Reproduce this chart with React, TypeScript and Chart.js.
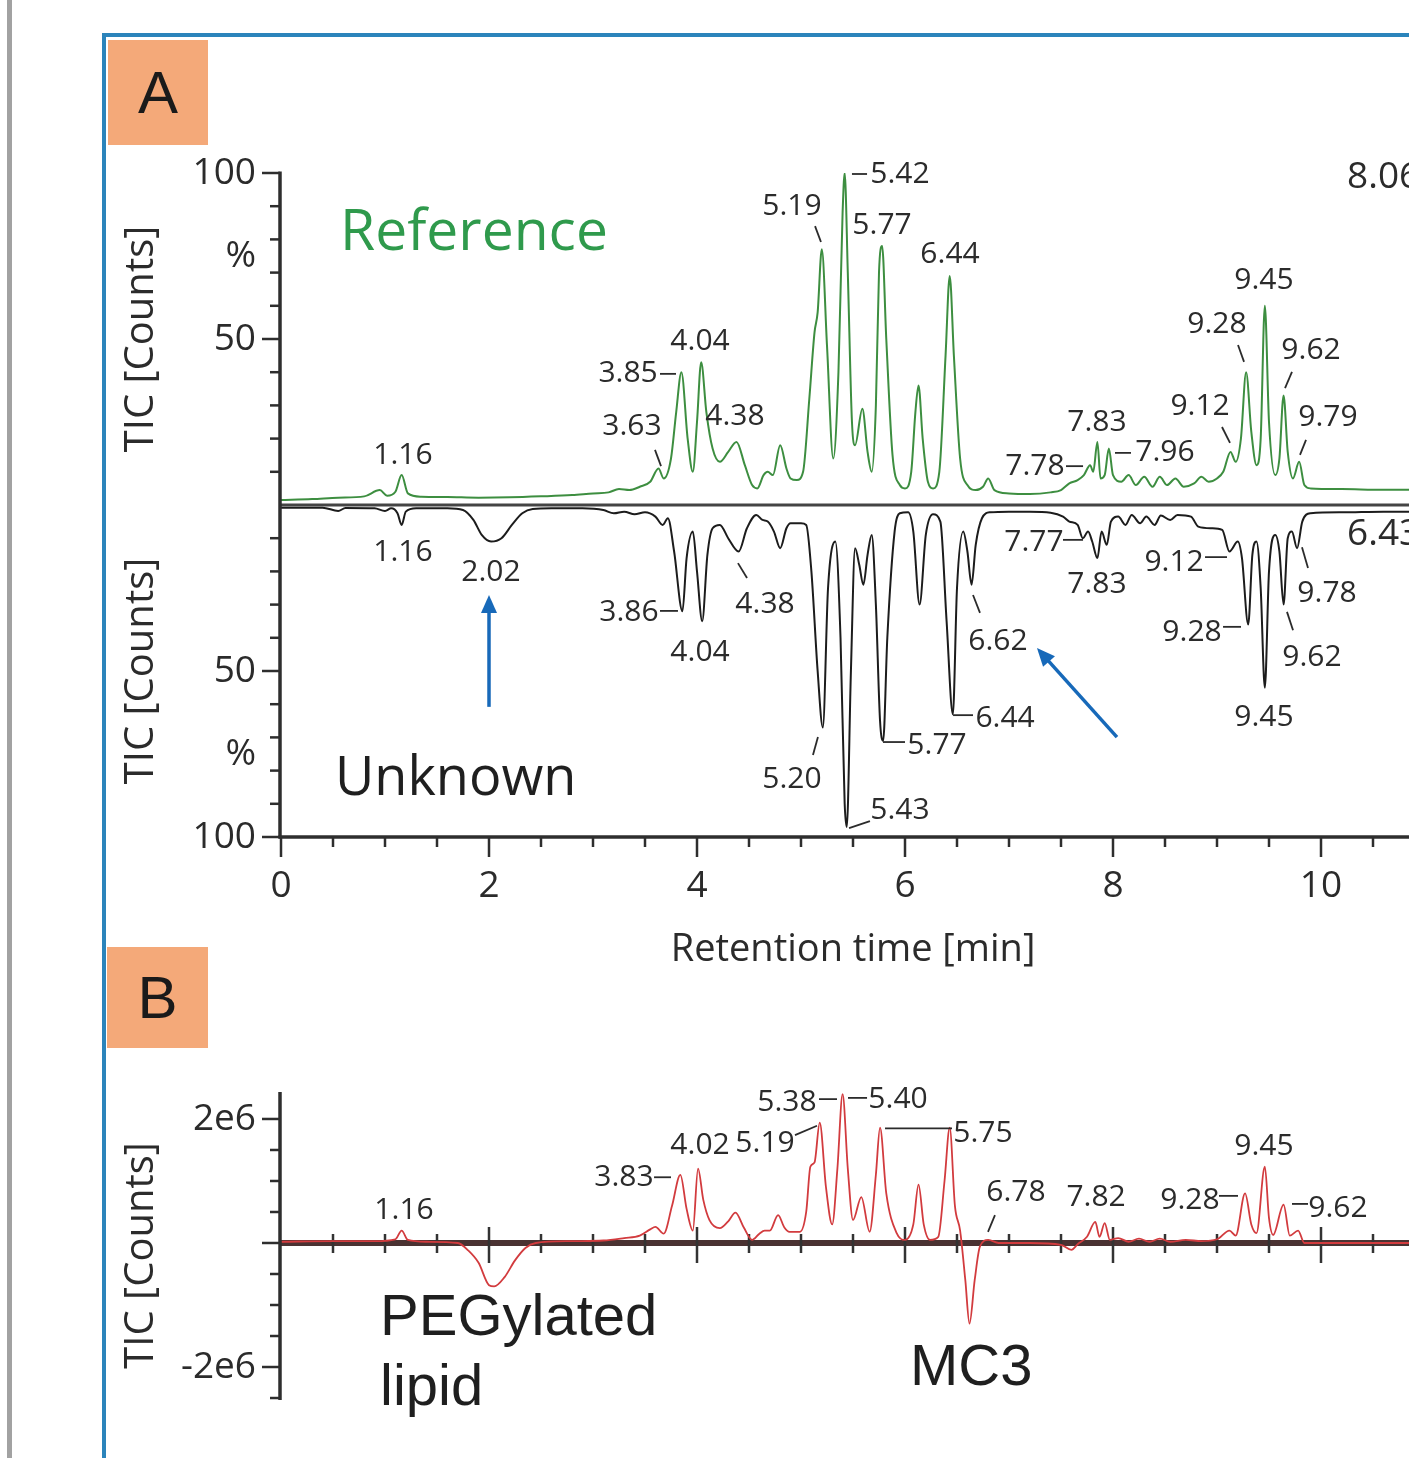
import React, { useEffect, useRef } from 'react';
import { Chart, registerables } from 'chart.js';
Chart.register(...registerables);

// ---------------- DATA ----------------
// Retention time [min], relative abundance [%]
const referenceTrace: [number, number][] = [
  [0.0, 1.5], [0.3, 1.8], [0.55, 2.2], [0.8, 2.6], [0.95, 4.5], [1.02, 2.8], [1.1, 4], [1.16, 9], [1.22, 3.5],
  [1.35, 2.5], [1.6, 2.4], [1.9, 2.2], [2.2, 2.3], [2.5, 2.6], [2.8, 3.0], [3.0, 3.5], [3.15, 3.8], [3.25, 4.8],
  [3.35, 4.5], [3.45, 5.5], [3.55, 7], [3.63, 11], [3.68, 8], [3.75, 14], [3.8, 28], [3.85, 40], [3.91, 20],
  [3.96, 10], [4.0, 25], [4.04, 43], [4.09, 28], [4.15, 17], [4.22, 13], [4.3, 16], [4.38, 19], [4.46, 12],
  [4.53, 6], [4.58, 5], [4.64, 9], [4.68, 10], [4.73, 9], [4.8, 18], [4.86, 11], [4.9, 8], [4.96, 7.5],
  [5.02, 10], [5.08, 32], [5.13, 52], [5.16, 58], [5.2, 77], [5.25, 48], [5.31, 14], [5.36, 40], [5.4, 88],
  [5.42, 100], [5.45, 70], [5.49, 25], [5.52, 18], [5.59, 29], [5.64, 16], [5.68, 10], [5.72, 30], [5.75, 70],
  [5.78, 78], [5.82, 50], [5.88, 15], [5.95, 6], [6.0, 5], [6.06, 10], [6.1, 28], [6.13, 36], [6.17, 20],
  [6.22, 7], [6.27, 5], [6.33, 10], [6.39, 45], [6.43, 69], [6.47, 45], [6.53, 14], [6.6, 6], [6.68, 4.5],
  [6.75, 5.5], [6.8, 8], [6.86, 4.5], [7.0, 3.5], [7.2, 3.3], [7.4, 3.8], [7.5, 4.5], [7.58, 6.5], [7.66, 7.5],
  [7.72, 9], [7.78, 12], [7.81, 10], [7.85, 19], [7.88, 8], [7.92, 9], [7.96, 17], [8.0, 9], [8.08, 7],
  [8.15, 9], [8.22, 6], [8.3, 8.5], [8.38, 5.5], [8.45, 8.5], [8.52, 6], [8.6, 8], [8.68, 5.5], [8.78, 6.5],
  [8.85, 8.5], [8.92, 7], [9.0, 8], [9.06, 10], [9.13, 16], [9.18, 13], [9.23, 20], [9.28, 40], [9.33, 22],
  [9.38, 12], [9.42, 20], [9.46, 60], [9.5, 25], [9.56, 9], [9.6, 14], [9.64, 33], [9.68, 16], [9.73, 8],
  [9.79, 13], [9.84, 6], [9.9, 5], [10.2, 4.8], [10.6, 4.6], [11.0, 4.6],
];

// Retention time [min], relative abundance [%] (plotted downward)
const unknownTrace: [number, number][] = [
  [0.0, 0.8], [0.4, 0.8], [0.55, 1.8], [0.62, 0.9], [0.9, 1.0], [1.0, 1.8], [1.06, 1.0], [1.12, 2.5], [1.16, 6],
  [1.2, 2], [1.3, 1], [1.6, 1], [1.75, 1.5], [1.85, 4.5], [1.93, 9], [2.02, 11], [2.12, 10], [2.22, 6],
  [2.32, 2.5], [2.42, 1.2], [2.6, 1], [2.9, 1], [3.1, 1.5], [3.2, 2.5], [3.3, 2.0], [3.4, 2.8], [3.5, 2.2],
  [3.6, 3.5], [3.67, 6], [3.72, 4], [3.78, 14], [3.86, 32], [3.9, 16], [3.96, 8], [4.0, 20], [4.05, 35],
  [4.1, 15], [4.15, 7], [4.22, 6], [4.3, 10], [4.4, 14], [4.48, 7], [4.57, 3], [4.63, 4.5], [4.68, 5],
  [4.74, 8], [4.8, 13], [4.86, 7], [4.9, 5.5], [5.0, 5.5], [5.05, 6], [5.1, 20], [5.16, 50], [5.21, 67],
  [5.26, 25], [5.33, 11], [5.38, 40], [5.42, 90], [5.44, 97], [5.48, 50], [5.52, 13], [5.56, 18], [5.6, 24],
  [5.64, 15], [5.68, 9], [5.72, 30], [5.76, 65], [5.79, 71], [5.83, 40], [5.9, 8], [5.95, 2.5], [6.03, 2.2],
  [6.08, 8], [6.14, 30], [6.2, 9], [6.27, 2.8], [6.34, 5], [6.4, 35], [6.46, 63], [6.5, 25], [6.56, 8],
  [6.6, 14], [6.64, 24], [6.68, 12], [6.74, 4], [6.82, 2.2], [7.0, 2.0], [7.2, 2.0], [7.4, 2.3], [7.52, 3.5],
  [7.58, 5], [7.66, 6], [7.71, 10], [7.76, 8], [7.8, 11], [7.85, 16], [7.89, 8], [7.94, 12], [7.98, 5],
  [8.05, 3.5], [8.12, 6], [8.18, 3], [8.26, 5.5], [8.32, 3.5], [8.4, 6], [8.46, 3.2], [8.55, 4.5], [8.62, 3],
  [8.75, 3.5], [8.82, 6.5], [8.95, 7], [9.05, 7.5], [9.12, 14], [9.2, 11], [9.24, 16], [9.3, 36], [9.34, 15],
  [9.38, 11], [9.42, 25], [9.46, 55], [9.5, 20], [9.56, 9], [9.6, 14], [9.64, 30], [9.68, 10], [9.72, 8],
  [9.77, 13], [9.82, 5], [9.9, 2.5], [10.2, 2.2], [10.6, 2.0], [11.0, 2.0],
];

// Retention time [min], TIC difference [millions of counts]
const differenceTrace: [number, number][] = [
  [0.0, 0.02], [0.5, 0.03], [0.9, 0.03], [1.1, 0.06], [1.16, 0.2], [1.22, 0.05], [1.4, 0.02], [1.7, 0.0],
  [1.8, -0.12], [1.9, -0.32], [2.0, -0.68], [2.05, -0.7], [2.15, -0.55], [2.25, -0.28], [2.35, -0.08],
  [2.45, 0.0], [2.8, 0.03], [3.1, 0.04], [3.3, 0.08], [3.45, 0.12], [3.55, 0.22], [3.6, 0.26], [3.68, 0.15],
  [3.76, 0.6], [3.84, 1.1], [3.9, 0.55], [3.96, 0.2], [4.01, 1.2], [4.06, 0.7], [4.12, 0.37], [4.22, 0.24],
  [4.3, 0.35], [4.37, 0.49], [4.45, 0.25], [4.53, 0.05], [4.6, 0.15], [4.65, 0.2], [4.7, 0.2], [4.78, 0.45],
  [4.84, 0.25], [4.89, 0.18], [4.99, 0.18], [5.05, 0.5], [5.09, 1.23], [5.13, 1.3], [5.18, 1.94], [5.24, 0.9],
  [5.3, 0.3], [5.35, 1.2], [5.4, 2.4], [5.45, 1.2], [5.5, 0.37], [5.58, 0.74], [5.66, 0.18], [5.72, 1.1],
  [5.76, 1.86], [5.82, 0.8], [5.92, 0.16], [6.0, 0.05], [6.08, 0.3], [6.13, 0.94], [6.18, 0.3], [6.24, 0.05],
  [6.32, 0.1], [6.38, 1.0], [6.43, 1.86], [6.48, 0.6], [6.53, 0.2], [6.58, -0.6], [6.62, -1.3], [6.67, -0.6],
  [6.72, -0.06], [6.8, 0.05], [6.9, 0.0], [7.2, 0.0], [7.5, -0.03], [7.6, -0.11], [7.66, -0.02], [7.75, 0.1],
  [7.83, 0.34], [7.87, 0.1], [7.92, 0.32], [7.97, 0.05], [8.05, 0.08], [8.15, 0.02], [8.25, 0.07], [8.35, 0.02],
  [8.45, 0.07], [8.55, 0.02], [8.7, 0.05], [8.85, 0.03], [9.0, 0.06], [9.12, 0.2], [9.18, 0.12], [9.27, 0.8],
  [9.33, 0.3], [9.38, 0.16], [9.46, 1.23], [9.5, 0.4], [9.54, 0.13], [9.64, 0.62], [9.7, 0.12], [9.78, 0.2],
  [9.84, 0.0], [10.0, 0.0], [11.0, 0.0],
];

const timeTicks = [0, 2, 4, 6, 8, 10];
const mirrorTicks = [-100, -75, -50, 50, 75, 100];
const differenceTicks = [-2, 2];

// [label, time, value] – label anchor in data units
const referencePeakLabels: [string, number, number][] = [
  ['1.16', 1.173, 14.8], ['3.63', 3.375, 23.8], ['3.85', 3.337, 39.5], ['4.04', 4.029, 49.4],
  ['4.38', 4.365, 26.8], ['5.19', 4.913, 89.8], ['5.42', 5.952, 99.7], ['5.77', 5.779, 84.3],
  ['6.44', 6.433, 75.6], ['7.78', 7.25, 11.7], ['7.83', 7.846, 25.0], ['7.96', 8.5, 15.7],
  ['9.12', 8.837, 29.8], ['9.28', 9.0, 54.5], ['9.45', 9.452, 67.5], ['9.62', 9.904, 46.7],
  ['9.79', 10.067, 26.5],
];
const referenceLeaders: [number, number, number, number][] = [
  [3.596, 16.6, 3.654, 11.7], [3.644, 39.5, 3.798, 39.5], [5.135, 84.0, 5.192, 79.2], [5.49, 99.7, 5.635, 99.7],
  [7.548, 11.7, 7.712, 11.7], [8.019, 15.7, 8.173, 15.7], [9.048, 23.5, 9.125, 18.7], [9.202, 48.2, 9.26, 43.1],
  [9.721, 40.1, 9.654, 35.2], [9.856, 19.6, 9.798, 15.1],
];
const unknownPeakLabels: [string, number, number][] = [
  ['1.16', 1.173, -14.2], ['2.02', 2.019, -20.2], ['3.86', 3.346, -32.5], ['4.04', 4.029, -44.3],
  ['4.38', 4.654, -30.1], ['5.20', 4.913, -82.8], ['5.43', 5.952, -91.9], ['5.77', 6.308, -72.3],
  ['6.44', 6.962, -64.2], ['6.62', 6.894, -41.0], ['7.77', 7.24, -11.4], ['7.83', 7.846, -23.8],
  ['9.12', 8.587, -17.2], ['9.28', 8.76, -38.3], ['9.45', 9.452, -63.9], ['9.62', 9.913, -45.8],
  ['9.78', 10.058, -26.5],
];
const unknownLeaders: [number, number, number, number][] = [
  [3.644, -31.9, 3.817, -31.9], [4.394, -17.5, 4.481, -22.0], [5.163, -69.9, 5.115, -75.3],
  [5.462, -97.3, 5.663, -95.2], [5.788, -71.4, 6.0, -71.4], [6.462, -63.3, 6.654, -63.3],
  [6.654, -27.1, 6.721, -32.5], [7.519, -10.5, 7.712, -10.5], [8.885, -15.7, 9.096, -15.7],
  [9.058, -36.7, 9.231, -36.7], [9.673, -32.2, 9.731, -37.7], [9.817, -12.7, 9.875, -19.0],
];
const neighbourLabels: [string, number, number][] = [['8.06', 10.25, 98.8], ['6.43', 10.25, -9.0]];
const mirrorArrows: [number, number, number, number][] = [[2.0, -60.8, 2.0, -27.1], [8.038, -69.9, 7.269, -43.1]];
const mirrorTexts: [string, number, number][] = [['Reference', 0.567, 81.6], ['Unknown', 0.519, -82.8]];

const differencePeakLabels: [string, number, number][] = [
  ['1.16', 1.183, 0.53], ['3.83', 3.298, 1.05], ['4.02', 4.029, 1.58], ['5.19', 4.654, 1.61],
  ['5.38', 4.865, 2.27], ['5.40', 5.933, 2.31], ['5.75', 6.75, 1.77], ['6.78', 7.067, 0.82],
  ['7.82', 7.837, 0.73], ['9.28', 8.74, 0.69], ['9.45', 9.452, 1.55], ['9.62', 10.163, 0.56],
];
const differenceLeaders: [number, number, number, number][] = [
  [3.587, 1.06, 3.75, 1.06], [4.942, 1.74, 5.154, 1.89], [5.173, 2.32, 5.346, 2.32], [5.452, 2.34, 5.635, 2.34],
  [5.808, 1.85, 6.452, 1.85], [6.865, 0.45, 6.798, 0.18], [9.019, 0.76, 9.202, 0.76], [9.721, 0.63, 9.875, 0.63],
];
const differenceTexts: [string, number, number][] = [['PEGylated', 0.952, -1.48], ['lipid', 0.952, -2.62], ['MC3', 6.048, -2.29]];

// ---------------- STYLE ----------------
const W = 1425;
const SANS = '"Open Sans", "Noto Sans", "DejaVu Sans", sans-serif';
const ARIAL = '"Liberation Sans", Arial, sans-serif';
const INK = '#2b2b2b';
const GREEN = '#3d8e40';
const GREEN_TEXT = '#2f9a4c';
const RED = '#d23b3e';
const BLUE = '#1769b9';

function line(ctx: CanvasRenderingContext2D, x1: number, y1: number, x2: number, y2: number) {
  ctx.beginPath();
  ctx.moveTo(x1, y1);
  ctx.lineTo(x2, y2);
  ctx.stroke();
}

function text(ctx: CanvasRenderingContext2D, s: string, x: number, y: number, font: string, color: string,
  align: CanvasTextAlign = 'center', baseline: CanvasTextBaseline = 'middle') {
  ctx.font = font;
  ctx.fillStyle = color;
  ctx.textAlign = align;
  ctx.textBaseline = baseline;
  ctx.fillText(s, x, y);
}

function rotatedText(ctx: CanvasRenderingContext2D, s: string, x: number, y: number, font: string) {
  ctx.save();
  ctx.translate(x, y);
  ctx.rotate(-Math.PI / 2);
  text(ctx, s, 0, 0, font, INK);
  ctx.restore();
}

function arrow(ctx: CanvasRenderingContext2D, x1: number, y1: number, x2: number, y2: number) {
  const a = Math.atan2(y2 - y1, x2 - x1);
  const head = 18;
  const half = 8;
  ctx.strokeStyle = BLUE;
  ctx.fillStyle = BLUE;
  ctx.lineWidth = 3.5;
  line(ctx, x1, y1, x2 - Math.cos(a) * head * 0.8, y2 - Math.sin(a) * head * 0.8);
  ctx.beginPath();
  ctx.moveTo(x2, y2);
  ctx.lineTo(x2 - Math.cos(a) * head - Math.sin(a) * half, y2 - Math.sin(a) * head + Math.cos(a) * half);
  ctx.lineTo(x2 - Math.cos(a) * head + Math.sin(a) * half, y2 - Math.sin(a) * head - Math.cos(a) * half);
  ctx.closePath();
  ctx.fill();
}

function drawLabels(chart: any, labels: [string, number, number][], leaders: [number, number, number, number][]) {
  const { ctx, scales: { x, y } } = chart;
  ctx.strokeStyle = INK;
  ctx.lineWidth = 1.8;
  leaders.forEach(([t1, v1, t2, v2]) => line(ctx, x.getPixelForValue(t1), y.getPixelForValue(v1), x.getPixelForValue(t2), y.getPixelForValue(v2)));
  labels.forEach(([s, t, v]) => text(ctx, s, x.getPixelForValue(t), y.getPixelForValue(v), `30px ${SANS}`, INK));
}

const mirrorDecor = {
  id: 'mirrorDecor',
  beforeDatasetsDraw(chart: any) {
    const { ctx, chartArea: ca, scales: { y } } = chart;
    ctx.save();
    ctx.strokeStyle = '#444';
    ctx.lineWidth = 3;
    const y0 = y.getPixelForValue(0);
    line(ctx, ca.left, y0, ca.right, y0);
    ctx.restore();
  },
  afterDatasetsDraw(chart: any) {
    const { ctx, chartArea: ca, scales: { x, y } } = chart;
    ctx.save();
    ctx.strokeStyle = '#2e2e2e';
    ctx.lineWidth = 3.5;
    line(ctx, ca.left - 1, ca.top - 1.5, ca.left - 1, ca.bottom + 1.5);
    line(ctx, ca.left - 2.5, ca.bottom, ca.right, ca.bottom);
    ctx.lineWidth = 2.5;
    for (let v = -100; v <= 100; v += 10) {
      if (v === 0) continue;
      const len = Math.abs(v) % 50 === 0 ? 18 : 10;
      const py = y.getPixelForValue(v);
      line(ctx, ca.left - 1 - len, py, ca.left - 1, py);
    }
    for (let i = 0; i <= 22; i++) {
      const t = i * 0.5;
      const len = i % 4 === 0 ? 20 : 10;
      const px = x.getPixelForValue(t);
      line(ctx, px, ca.bottom, px, ca.bottom + len);
    }
    const yTop = (y.getPixelForValue(100) + y.getPixelForValue(0)) / 2;
    const yBot = (y.getPixelForValue(-100) + y.getPixelForValue(0)) / 2;
    rotatedText(ctx, 'TIC [Counts]', 142, yTop, `40px ${SANS}`);
    rotatedText(ctx, 'TIC [Counts]', 142, yBot, `40px ${SANS}`);

    drawLabels(chart, referencePeakLabels, referenceLeaders);
    drawLabels(chart, unknownPeakLabels, unknownLeaders);
    neighbourLabels.forEach(([s, t, v]) => text(ctx, s, x.getPixelForValue(t), y.getPixelForValue(v), `37px ${SANS}`, INK, 'left'));

    text(ctx, mirrorTexts[0][0], x.getPixelForValue(mirrorTexts[0][1]), y.getPixelForValue(mirrorTexts[0][2]), `57px ${SANS}`, GREEN_TEXT, 'left');
    text(ctx, mirrorTexts[1][0], x.getPixelForValue(mirrorTexts[1][1]), y.getPixelForValue(mirrorTexts[1][2]), `54px ${SANS}`, '#1f1f1f', 'left');

    mirrorArrows.forEach(([t1, v1, t2, v2]) => arrow(ctx, x.getPixelForValue(t1), y.getPixelForValue(v1), x.getPixelForValue(t2), y.getPixelForValue(v2)));
    ctx.restore();
  },
};

const differenceDecor = {
  id: 'differenceDecor',
  beforeDatasetsDraw(chart: any) {
    const { ctx, chartArea: ca, scales: { x, y } } = chart;
    ctx.save();
    const y0 = y.getPixelForValue(0);
    ctx.strokeStyle = '#4a3232';
    ctx.lineWidth = 6;
    line(ctx, ca.left, y0, ca.right, y0);
    ctx.strokeStyle = '#333';
    ctx.lineWidth = 2.5;
    for (let i = 1; i <= 22; i++) {
      const px = x.getPixelForValue(i * 0.5);
      if (i % 4 === 0) line(ctx, px, y0 - 16, px, y0 + 20);
      else line(ctx, px, y0 - 9, px, y0 + 10);
    }
    ctx.restore();
  },
  afterDatasetsDraw(chart: any) {
    const { ctx, chartArea: ca, scales: { x, y } } = chart;
    ctx.save();
    ctx.strokeStyle = '#2e2e2e';
    ctx.lineWidth = 3.5;
    line(ctx, ca.left - 1, ca.top, ca.left - 1, ca.bottom);
    ctx.lineWidth = 2.5;
    for (let v = -2.5; v <= 2.0001; v += 0.5) {
      const len = Math.abs(v) < 0.01 || Math.abs(Math.abs(v) - 2) < 0.01 ? 18 : 10;
      const py = y.getPixelForValue(v);
      line(ctx, ca.left - 1 - len, py, ca.left - 1, py);
    }
    rotatedText(ctx, 'TIC [Counts]', 142, y.getPixelForValue(-0.2), `40px ${SANS}`);
    drawLabels(chart, differencePeakLabels, differenceLeaders);
    differenceTexts.forEach(([s, t, v]) => text(ctx, s, x.getPixelForValue(t), y.getPixelForValue(v), `58px ${ARIAL}`, '#1f1f1f', 'left', 'alphabetic'));
    ctx.restore();
  },
};

const tickFont = { family: SANS, size: 37 };

export default function App() {
  const aRef = useRef<HTMLCanvasElement>(null);
  const bRef = useRef<HTMLCanvasElement>(null);

  useEffect(() => {
    const chartA = new Chart(aRef.current as HTMLCanvasElement, {
      type: 'line',
      data: {
        datasets: [
          {
            data: referenceTrace.map(([t, v]) => ({ x: t, y: v })),
            borderColor: GREEN, borderWidth: 2, pointRadius: 0, cubicInterpolationMode: 'monotone',
          },
          {
            data: unknownTrace.map(([t, v]) => ({ x: t, y: -v })),
            borderColor: '#1c1c1c', borderWidth: 2, pointRadius: 0, cubicInterpolationMode: 'monotone',
          },
        ],
      },
      options: {
        animation: false,
        responsive: false,
        devicePixelRatio: 1,
        layout: { padding: { left: 0, right: 0, top: 173, bottom: 0 } },
        plugins: { legend: { display: false }, tooltip: { enabled: false } },
        scales: {
          x: {
            type: 'linear', min: 0, max: 11,
            afterFit: (s: any) => { s.height = 163; },
            afterBuildTicks: (s: any) => { s.ticks = timeTicks.map((v) => ({ value: v })); },
            grid: { display: false, drawTicks: false },
            border: { display: false },
            ticks: { font: tickFont, color: INK, padding: 27, maxRotation: 0, autoSkip: false },
            title: { display: true, text: 'Retention time [min]', font: { family: SANS, size: 38 }, color: INK, padding: { top: 0, bottom: 27 } },
          },
          y: {
            type: 'linear', min: -100, max: 100,
            afterFit: (s: any) => { s.width = 281; },
            afterBuildTicks: (s: any) => { s.ticks = mirrorTicks.map((v) => ({ value: v })); },
            grid: { display: false, drawTicks: false },
            border: { display: false },
            ticks: {
              font: tickFont, color: INK, padding: 25, autoSkip: false,
              callback: (v: any) => (Math.abs(v) === 75 ? '%' : String(Math.abs(v))),
            },
          },
        },
      } as any,
      plugins: [mirrorDecor],
    } as any);

    const chartB = new Chart(bRef.current as HTMLCanvasElement, {
      type: 'line',
      data: {
        datasets: [
          {
            data: differenceTrace.map(([t, v]) => ({ x: t, y: v })),
            borderColor: RED, borderWidth: 1.8, pointRadius: 0, cubicInterpolationMode: 'monotone',
          },
        ],
      },
      options: {
        animation: false,
        responsive: false,
        devicePixelRatio: 1,
        layout: { padding: { left: 0, right: 0, top: 92, bottom: 58 } },
        plugins: { legend: { display: false }, tooltip: { enabled: false } },
        scales: {
          x: { type: 'linear', min: 0, max: 11, display: false },
          y: {
            type: 'linear', min: -2.532, max: 2.435,
            afterFit: (s: any) => { s.width = 281; },
            afterBuildTicks: (s: any) => { s.ticks = differenceTicks.map((v) => ({ value: v })); },
            grid: { display: false, drawTicks: false },
            border: { display: false },
            ticks: { font: tickFont, color: INK, padding: 25, autoSkip: false, callback: (v: any) => `${v}e6` },
          },
        },
      } as any,
      plugins: [differenceDecor],
    } as any);

    return () => {
      chartA.destroy();
      chartB.destroy();
    };
  }, []);

  const orange = {
    position: 'absolute' as const, background: '#f4a979', display: 'flex', alignItems: 'center', justifyContent: 'center',
    font: `60px ${ARIAL}`, color: '#1a1a1a',
  };

  return (
    <div style={{ position: 'absolute', left: 0, top: 0, width: 1409, height: 1458, overflow: 'hidden', background: '#ffffff' }}>
      <div style={{ position: 'absolute', left: 7, top: 0, width: 5, height: 1458, background: '#a2a2a2' }} />
      <div style={{ position: 'absolute', left: 102, top: 33, width: 1400, height: 1500, border: '4px solid #2b84bb', boxSizing: 'border-box' }} />
      <div style={{ ...orange, left: 108, top: 40, width: 100, height: 105 }}>A</div>
      <div style={{ ...orange, left: 107, top: 947, width: 101, height: 101 }}>B</div>
      <canvas ref={aRef} width={W} height={1000} style={{ position: 'absolute', left: 0, top: 0, width: W, height: 1000 }} />
      <canvas ref={bRef} width={W} height={458} style={{ position: 'absolute', left: 0, top: 1000, width: W, height: 458 }} />
    </div>
  );
}
